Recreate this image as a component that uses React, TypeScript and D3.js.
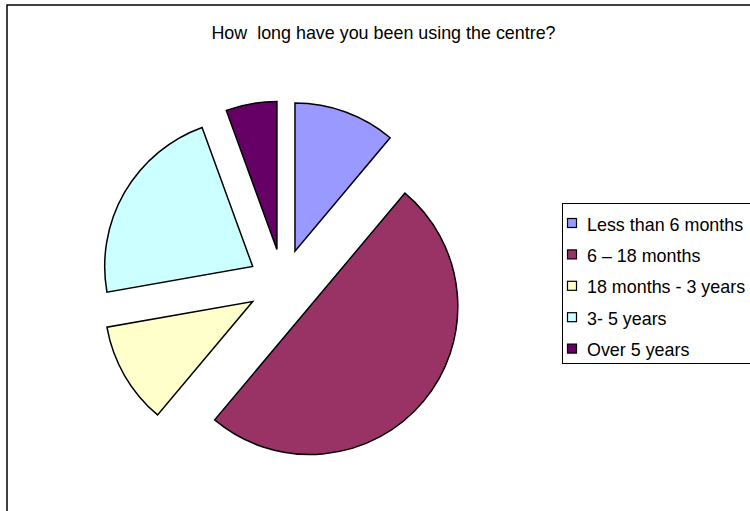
import React from "react";
import * as d3 from "d3";

const categories = ["Less than 6 months", "6 – 18 months", "18 months - 3 years", "3- 5 years", "Over 5 years"];
const values = [2, 9, 2, 4, 1];
const colors = ["#9999FF", "#993366", "#FFFFCC", "#CCFFFF", "#660066"];
const title = "How  long have you been using the centre?";

export default function App() {
  const W = 750, H = 511;
  const cx = 283, cy = 284, R = 148, explode = 35;
  const pie = d3.pie<number>().sort(null).value((d) => d).startAngle(0).endAngle(2 * Math.PI);
  const arcs = pie(values);
  const arc = d3.arc<d3.PieArcDatum<number>>().innerRadius(0).outerRadius(R);
  const font = "'Liberation Sans', Arial, sans-serif";
  return (
    <svg width={W} height={H} style={{ position: "absolute", left: 0, top: 0, display: "block" }}>
      <rect x={0} y={0} width={W} height={H} fill="#fff" />
      <path d={`M7,${H} L7,5 L${W},5`} fill="none" stroke="#000" strokeWidth={1.5} />
      <text x={383.5} y={39} textAnchor="middle" fontFamily={font} fontSize={17.9} fill="#000" style={{ whiteSpace: "pre" }}>
        {title}
      </text>
      <g transform={`translate(${cx},${cy})`}>
        {arcs.map((a, i) => {
          const mid = (a.startAngle + a.endAngle) / 2;
          const dx = Math.sin(mid) * explode;
          const dy = -Math.cos(mid) * explode;
          return (
            <path key={i} d={arc(a) || ""} transform={`translate(${dx},${dy})`} fill={colors[i]} stroke="#000" strokeWidth={1.5} strokeLinejoin="miter" />
          );
        })}
      </g>
      <rect x={562.5} y={203.5} width={200} height={160} fill="#fff" stroke="#000" strokeWidth={1} />
      {categories.map((c, i) => {
        const yc = 223 + i * 31.4;
        return (
          <g key={c}>
            <rect x={567.5} y={yc - 4.5} width={9} height={9} fill={colors[i]} stroke="#000" strokeWidth={1.2} />
            <text x={587} y={yc + 7.5} fontFamily={font} fontSize={17.9} fill="#000">
              {c}
            </text>
          </g>
        );
      })}
    </svg>
  );
}
